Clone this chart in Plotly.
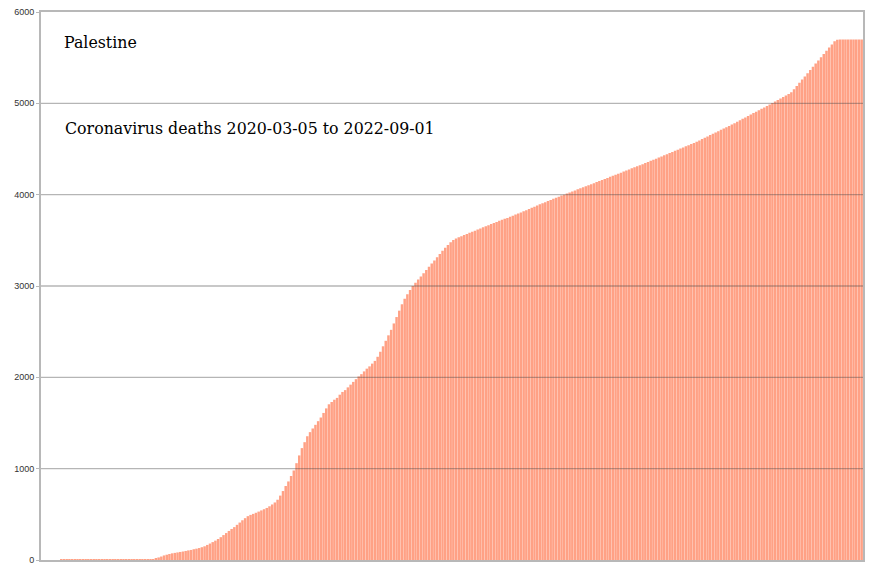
import pandas as pd
import plotly.graph_objects as go

# cumulative coronavirus deaths, Palestine, one value every 3 days from 2020-03-05
start_date = "2020-03-05"
step_days = 3
deaths = [
    0, 0, 0, 0, 0, 0, 0, 1, 1, 1, 2, 2, 2, 2, 2, 2, 2, 2, 2, 3,
    3, 3, 3, 3, 3, 3, 3, 3, 3, 3, 3, 3, 3, 3, 3, 3, 3, 4, 5, 7,
    9, 10, 20, 28, 38, 50, 58, 66, 73, 78, 83, 88, 93, 99, 105, 110, 118, 124, 131, 140,
    150, 165, 180, 196, 212, 230, 250, 273, 295, 318, 340, 360, 385, 410, 435, 458, 480, 494, 505, 517,
    530, 543, 556, 570, 588, 608, 630, 660, 705, 755, 810, 860, 920, 980, 1060, 1145, 1225, 1290, 1355, 1400,
    1440, 1480, 1520, 1560, 1610, 1660, 1705, 1730, 1755, 1775, 1810, 1840, 1860, 1890, 1920, 1950, 1980, 2010, 2035, 2065,
    2095, 2120, 2150, 2180, 2225, 2280, 2340, 2400, 2460, 2520, 2590, 2660, 2730, 2800, 2860, 2910, 2955, 3000, 3035, 3070,
    3105, 3140, 3175, 3210, 3245, 3280, 3315, 3350, 3385, 3420, 3450, 3480, 3505, 3520, 3533, 3546, 3558, 3570, 3582, 3594,
    3606, 3618, 3630, 3642, 3654, 3666, 3678, 3690, 3702, 3714, 3724, 3735, 3745, 3757, 3770, 3782, 3794, 3806, 3818, 3830,
    3843, 3856, 3869, 3882, 3894, 3906, 3918, 3930, 3942, 3954, 3966, 3978, 3990, 4000, 4012, 4023, 4035, 4046, 4058, 4069,
    4080, 4092, 4103, 4115, 4126, 4138, 4149, 4160, 4172, 4183, 4195, 4206, 4218, 4230, 4241, 4253, 4264, 4276, 4288, 4299,
    4311, 4323, 4334, 4346, 4358, 4370, 4382, 4394, 4407, 4419, 4431, 4443, 4456, 4468, 4480, 4492, 4505, 4517, 4529, 4541,
    4554, 4566, 4580, 4594, 4609, 4623, 4638, 4652, 4666, 4681, 4695, 4710, 4724, 4738, 4753, 4768, 4783, 4799, 4815, 4830,
    4846, 4862, 4877, 4893, 4908, 4924, 4940, 4955, 4971, 4987, 5003, 5019, 5036, 5052, 5069, 5085, 5102, 5120, 5155, 5190,
    5225, 5260, 5295, 5330, 5365, 5400, 5435, 5470, 5505, 5540, 5575, 5610, 5645, 5680, 5695, 5698, 5700, 5700, 5700, 5700,
    5700, 5700, 5700, 5700,
]
dates = pd.date_range(start_date, periods=len(deaths), freq=f"{step_days}D")

y_ticks = [0, 1000, 2000, 3000, 4000, 5000, 6000]
country = "Palestine"
subtitle = "Coronavirus deaths 2020-03-05 to 2022-09-01"

fig = go.Figure(go.Bar(
    x=dates, y=deaths,
    marker=dict(color="#FFA185", line=dict(width=0)),
    hoverinfo="x+y",
))

# grid lines sit on top of the bars in the original
shapes = []
for v in y_ticks[1:-1]:
    shapes.append(dict(type="line", xref="paper", x0=0, x1=1, yref="y", y0=v, y1=v,
                       line=dict(color="rgba(70,70,70,0.40)", width=1.3), layer="above"))

half = pd.Timedelta(days=step_days / 2)
fig.update_layout(
    width=880, height=582,
    margin=dict(l=41, r=17, t=12, b=22),
    paper_bgcolor="white", plot_bgcolor="white",
    bargap=0.08,
    showlegend=False,
    shapes=shapes,
    xaxis=dict(range=[dates[0] - half, dates[-1] + half], showticklabels=False, ticks="",
               showgrid=False, showline=True, linecolor="#b8b8b8", linewidth=1.5, mirror=True,
               zeroline=False, automargin=False),
    yaxis=dict(range=[0, 6000], tickvals=y_ticks, ticktext=[str(v) for v in y_ticks],
               showgrid=False, zeroline=False, showline=True, linecolor="#b8b8b8", linewidth=2,
               mirror=True, ticks="outside", ticklen=3, tickcolor="#b8b8b8", automargin=False,
               tickfont=dict(family="Liberation Sans", size=9, color="#333333")),
    annotations=[
        dict(text=country, xref="paper", yref="paper", x=0.026, y=0.945, xanchor="left",
             yanchor="middle", showarrow=False,
             font=dict(family="DejaVu Serif", size=15.8, color="#000000")),
        dict(text=subtitle, xref="paper", yref="paper", x=0.027, y=0.788, xanchor="left",
             yanchor="middle", showarrow=False,
             font=dict(family="DejaVu Serif", size=15.8, color="#000000")),
    ],
)

# drop the default page margin so the figure starts at the window corner
fig.write_html("out.html", config={"displayModeBar": False},
               post_script="document.body.style.margin='0';")
